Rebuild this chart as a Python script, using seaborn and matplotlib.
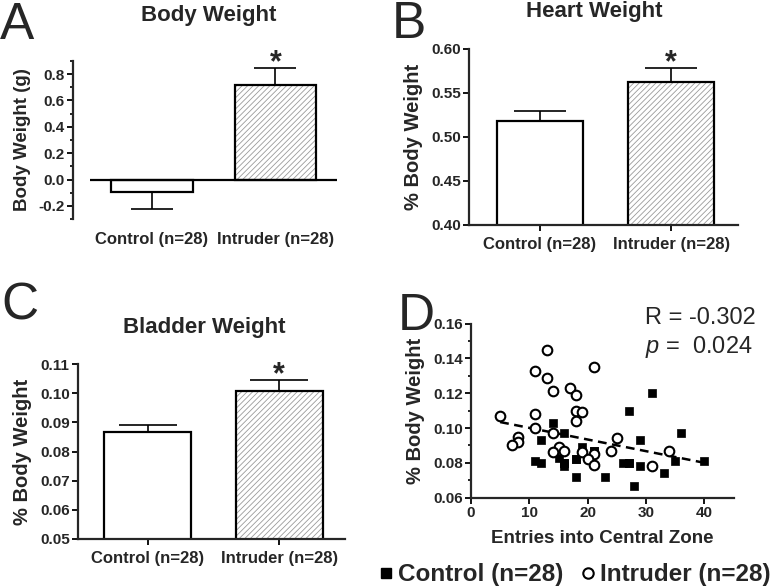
import matplotlib
matplotlib.use('Agg')
import matplotlib.pyplot as plt
from matplotlib.patches import Rectangle
from matplotlib.ticker import MultipleLocator, FormatStrFormatter
from matplotlib.lines import Line2D
import seaborn as sns
import numpy as np
import pandas as pd

sns.set_theme(style='ticks')
plt.rcParams['font.family'] = ['Liberation Sans', 'DejaVu Sans']
plt.rcParams['font.weight'] = 'bold'
plt.rcParams['axes.unicode_minus'] = False
plt.rcParams['mathtext.fontset'] = 'custom'
plt.rcParams['mathtext.it'] = 'Liberation Sans:style=italic:weight=normal'
plt.rcParams['mathtext.rm'] = 'Liberation Sans:weight=normal'
plt.rcParams['hatch.linewidth'] = 0.6

# ---------------- data ----------------
groups = ['Control (n=28)', 'Intruder (n=28)']
body_mean = [-0.095, 0.715]
body_sem = [0.127, 0.132]
heart_mean = [0.518, 0.562]
heart_sem = [0.011, 0.016]
bladder_mean = [0.0866, 0.1009]
bladder_sem = [0.0025, 0.0035]

ctrl_x = [14, 16, 12, 11, 12, 15, 16, 16, 18, 18, 19, 21, 23, 27, 31, 26, 27,
          29, 29, 28, 33, 35, 36, 40, 16, 18, 27, 21]
ctrl_y = [0.103, 0.097, 0.093, 0.081, 0.080, 0.083, 0.080, 0.078, 0.082, 0.072,
          0.089, 0.087, 0.072, 0.110, 0.120, 0.080, 0.080, 0.093, 0.078, 0.067,
          0.074, 0.081, 0.097, 0.081, 0.080, 0.082, 0.080, 0.087]
intr_x = [5, 13, 11, 13, 14, 21, 17, 18, 11, 18, 19, 18, 11, 14, 8, 8, 7, 15,
          14, 16, 19, 21, 20, 21, 24, 25, 31, 34]
intr_y = [0.107, 0.145, 0.133, 0.129, 0.121, 0.135, 0.123, 0.119, 0.108, 0.110,
          0.109, 0.104, 0.100, 0.097, 0.095, 0.092, 0.090, 0.089, 0.086, 0.087,
          0.086, 0.085, 0.082, 0.079, 0.087, 0.094, 0.078, 0.087]

W, H = 782, 587
fig = plt.figure(figsize=(W / 100, H / 100), dpi=100)


def box(left, right, top, bottom):
    return [left / W, 1 - bottom / H, (right - left) / W, (bottom - top) / H]


LW = 1.6
TICKFS = 11
CATFS = 12


def bar_panel(ax, means, sems, ylim, major, minor, fmt, ylabel, xlim,
              capsize, zero_axis=False, ylabelfs=14.5, labelpad=6):
    df = pd.DataFrame({'group': groups, 'value': means})
    sns.barplot(data=df, x='group', y='value', order=groups, ax=ax,
                color='white', width=0.66, edgecolor='black', linewidth=LW,
                errorbar=None, saturation=1)
    p = ax.patches[1]
    p.set_hatch('//////')
    p.set_edgecolor('#9a9a9a')
    p.set_linewidth(0)
    ax.add_patch(Rectangle((p.get_x(), p.get_y()), p.get_width(), p.get_height(),
                           fill=False, edgecolor='black', linewidth=LW,
                           zorder=p.get_zorder() + 0.5))
    lower = [s if m < 0 else 0 for m, s in zip(means, sems)]
    upper = [0 if m < 0 else s for m, s in zip(means, sems)]
    ax.errorbar(range(len(groups)), means, yerr=[lower, upper], fmt='none',
                ecolor='black', elinewidth=1.2, capsize=capsize, capthick=1.2,
                zorder=1)
    m, s = means[1], sems[1]
    ax.annotate('*', xy=(1, m + s), xytext=(0, 3.5), textcoords='offset points',
                ha='center', va='center', fontsize=22, fontweight='bold',
                annotation_clip=False)
    ax.set_ylim(*ylim)
    ax.set_xlim(*xlim)
    ax.yaxis.set_major_locator(MultipleLocator(major))
    ax.yaxis.set_major_formatter(FormatStrFormatter(fmt))
    if minor:
        ax.yaxis.set_minor_locator(MultipleLocator(minor))
        ax.tick_params(axis='y', which='minor', length=2.5, width=1.2, color='black')
    ax.tick_params(axis='y', which='major', length=4, width=1.3, color='black',
                   labelsize=TICKFS, pad=2)
    for t in ax.get_yticklabels():
        t.set_fontweight('bold')
    ax.set_xlabel('')
    ax.set_ylabel(ylabel, fontsize=ylabelfs, fontweight='bold', labelpad=labelpad)
    sns.despine(ax=ax)
    ax.spines['left'].set_linewidth(LW)
    ax.spines['bottom'].set_linewidth(LW)
    if zero_axis:
        ax.spines['bottom'].set_visible(False)
        ax.hlines(0, -0.5, len(groups) - 0.5, color='black', linewidth=LW, zorder=3)
        ax.tick_params(axis='x', length=0, labelsize=CATFS, pad=9.5)
    else:
        ax.tick_params(axis='x', length=4, width=1.3, color='black',
                       labelsize=CATFS, pad=4.5)
    for t in ax.get_xticklabels():
        t.set_fontweight('bold')
    ax.set_facecolor('white')


# Panel A
axA = fig.add_axes(box(73, 337, 61, 219))
bar_panel(axA, body_mean, body_sem, (-0.3, 0.9), 0.2, 0.1, '%.1f',
          'Body Weight (g)', (-0.64, 1.5), 15, zero_axis=True, ylabelfs=13.5,
          labelpad=5)

# Panel B
axB = fig.add_axes(box(469, 738, 49, 225))
bar_panel(axB, heart_mean, heart_sem, (0.4, 0.6), 0.05, None, '%.2f',
          '% Body Weight', (-0.54, 1.51), 19)

# Panel C
axC = fig.add_axes(box(78, 345, 364, 539))
bar_panel(axC, bladder_mean, bladder_sem, (0.05, 0.11), 0.01, None, '%.2f',
          '% Body Weight', (-0.53, 1.5), 21)

# Panel D
axD = fig.add_axes(box(471, 733.5, 323.5, 497.7))
all_x = ctrl_x + intr_x
all_y = ctrl_y + intr_y
sns.regplot(x=all_x, y=all_y, ax=axD, scatter=False, ci=None, truncate=True,
            line_kws=dict(color='black', linewidth=1.8, linestyle=(0, (3.5, 2.2)),
                          zorder=1))
sns.scatterplot(x=ctrl_x, y=ctrl_y, ax=axD, marker='s', s=38, color='black',
                edgecolor='black', linewidth=0.5, zorder=2)
sns.scatterplot(x=intr_x, y=intr_y, ax=axD, marker='o', s=48, facecolor='white',
                edgecolor='black', linewidth=1.5, zorder=3)
axD.set_xlim(0, 45)
axD.set_ylim(0.06, 0.16)
axD.xaxis.set_major_locator(MultipleLocator(10))
axD.yaxis.set_major_locator(MultipleLocator(0.02))
axD.yaxis.set_minor_locator(MultipleLocator(0.01))
axD.yaxis.set_major_formatter(FormatStrFormatter('%.2f'))
axD.set_xticks([0, 10, 20, 30, 40])
axD.tick_params(axis='both', which='major', length=4, width=1.3, color='black',
                labelsize=TICKFS, pad=2)
axD.tick_params(axis='y', which='minor', length=2.5, width=1.2, color='black')
for t in axD.get_xticklabels() + axD.get_yticklabels():
    t.set_fontweight('bold')
axD.set_xlabel('Entries into Central Zone', fontsize=13.5, fontweight='bold', labelpad=7)
axD.set_ylabel('% Body Weight', fontsize=14.5, fontweight='bold', labelpad=6)
sns.despine(ax=axD)
axD.spines['left'].set_linewidth(LW)
axD.spines['bottom'].set_linewidth(LW)

fig.text(645 / W, 1 - 318 / H, 'R = -0.302', fontsize=17, fontweight='normal',
         ha='left', va='center')
fig.text(645 / W, 1 - 347 / H, '$p$ =  0.024', fontsize=17, fontweight='normal',
         ha='left', va='center')

# titles
fig.text(209 / W, 1 - 15 / H, 'Body Weight', fontsize=16, fontweight='bold',
         ha='center', va='center')
fig.text(594 / W, 1 - 12 / H, 'Heart Weight', fontsize=16, fontweight='bold',
         ha='center', va='center')
fig.text(204 / W, 1 - 327 / H, 'Bladder Weight', fontsize=16, fontweight='bold',
         ha='center', va='center')

# panel letters
for letter, x, yb in [('A', 0, 39), ('B', 392, 38), ('C', 1, 320), ('D', 398, 330)]:
    fig.text(x / W, 1 - yb / H, letter, fontsize=37, fontweight='normal',
             ha='left', va='baseline')

# legend
handles = [Line2D([], [], marker='s', linestyle='none', markersize=7,
                  markerfacecolor='black', markeredgecolor='black'),
           Line2D([], [], marker='o', linestyle='none', markersize=7.5,
                  markerfacecolor='white', markeredgecolor='black',
                  markeredgewidth=1.5)]
fig.legend(handles, ['Control (n=28)', 'Intruder (n=28)'], loc='center left',
           bbox_to_anchor=(379 / W, 1 - 575 / H), ncol=2, frameon=False,
           prop={'size': 17.5, 'weight': 'bold'}, handlelength=0.6,
           handletextpad=0.2, columnspacing=0.7, borderpad=0, borderaxespad=0)

fig.savefig('out.png', dpi=100, facecolor='white')
